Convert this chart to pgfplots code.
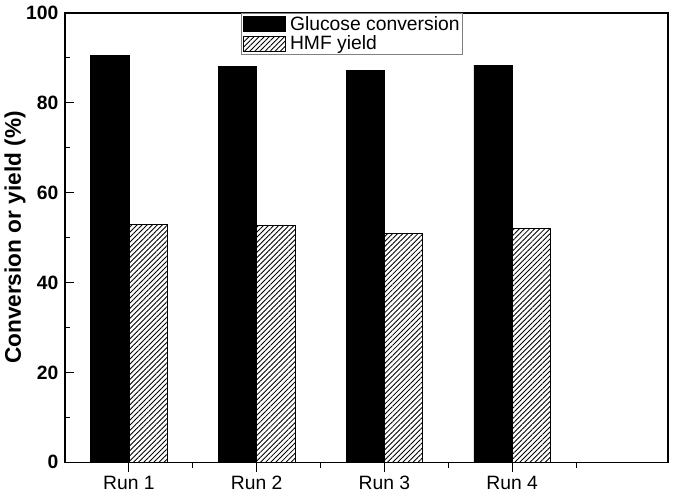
\documentclass[border=0pt]{standalone}
\usepackage{fontspec}
\setmainfont{Liberation Sans}
\usepackage{pgfplots}
\pgfplotsset{compat=1.18}
\usetikzlibrary{patterns.meta}
\begin{document}
\begin{tikzpicture}
\begin{axis}[
  scale only axis,
  width=453pt, height=337.5pt,
  xmin=0.5, xmax=5.22,
  ymin=0, ymax=100,
  ybar, bar width=0.3,
  xtick={1,2,3,4},
  xticklabels={Run 1,Run 2,Run 3,Run 4},
  minor xtick={1.5,2.5,3.5,4.5},
  ytick={0,20,40,60,80,100},
  minor ytick={10,30,50,70,90},
  xtick pos=bottom, ytick pos=left,
  xtick align=outside, ytick align=inside,
  major tick length=7pt, minor tick length=4pt,
  tick style={black, line width=0.8pt},
  axis line style={line width=1pt},
  /pgf/number format/assume math mode=true,
  xticklabel style={font=\fontsize{14.5}{17}\selectfont},
  yticklabel style={font=\fontsize{14.5}{17}\selectfont\bfseries, xshift=-1.5pt},
  ylabel={Conversion or yield (\%)},
  ylabel style={font=\fontsize{17}{20}\selectfont\bfseries, at={(axis description cs:-0.083,0.5)}, anchor=center},
  legend image code/.code={\draw[#1] (0pt,-5.5pt) rectangle (32pt,5.5pt);},
  legend style={at={(axis description cs:0.476,1)}, anchor=north, draw=gray, line width=0.6pt,
    font=\fontsize{14.5}{17}\selectfont, inner xsep=1pt, inner ysep=0.5pt,
    nodes={inner sep=1.5pt}, row sep=0pt},
  legend cell align=left,
]
\addplot[bar shift=-0.15, fill=black, draw=black] coordinates {(1,90.6) (2,88.1) (3,87.3) (4,88.4)};
\addlegendentry{\hspace{1.5pt}Glucose conversion}
\addplot[bar shift=0.15, draw=black, line width=0.7pt, pattern={Lines[angle=45,distance=2.7pt,line width=0.65pt]}] coordinates {(1,53.0) (2,52.6) (3,51.0) (4,52.1)};
\addlegendentry{\hspace{1.5pt}HMF yield}
\end{axis}
\path ([xshift=-48pt,yshift=-27.75pt]current axis.south west) rectangle ([xshift=5.25pt,yshift=9.75pt]current axis.north east);
\end{tikzpicture}
\end{document}
